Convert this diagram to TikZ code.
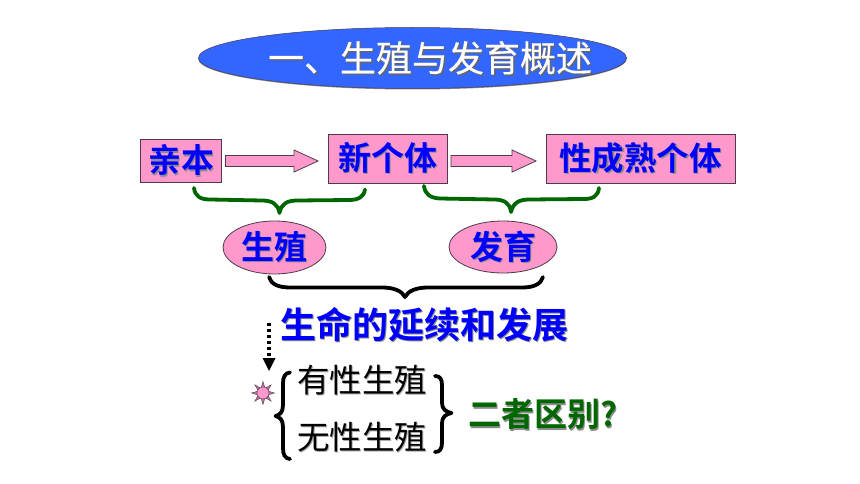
\documentclass[tikz,border=0pt]{standalone}
\usepackage{fontspec}
\usetikzlibrary{shapes.geometric,arrows.meta,calc}
\setmainfont{Noto Sans CJK SC}
\newfontfamily\cjkreg{Noto Sans CJK SC}
\newfontfamily\cjkmed[FakeBold=0.3]{Noto Sans CJK SC}
\newfontfamily\cjkbold{Noto Sans CJK SC Bold}
\definecolor{pinkfill}{HTML}{FF99CC}
\definecolor{edgecol}{HTML}{4D3A4D}
\definecolor{titleblue}{HTML}{3366FF}
\definecolor{dkgreen}{HTML}{006600}
\newcommand{\shtext}[4]{\leavevmode\rlap{\kern#4\raisebox{-#4}{\textcolor{#3}{#1}}}\textcolor{#2}{#1}}
\newcommand{\bluetxt}[2][33]{{\fontsize{#1}{#1}\cjkbold\shtext{#2}{blue}{black!45}{1.4pt}}}
\newcommand{\blockarrow}[3]{%
  \coordinate (bs) at ($(#1.east)+(3.5,#3)$);
  \coordinate (bt) at ($(bs -| #2.west)+(-9.5,0)$);
  \draw[arrowshape] (bs) ++(0,-5.5) -- ($(bt)+(-24,-5.5)$) -- ($(bt)+(-24,-11)$) -- (bt)
     -- ($(bt)+(-24,11)$) -- ($(bt)+(-24,5.5)$) -- ($(bs)+(0,5.5)$) -- cycle;}
\tikzset{
  x=1pt,y=-1pt,
  pinkbox/.style={draw=edgecol,fill=pinkfill,line width=0.9pt,rectangle,inner sep=0pt},
  pinkoval/.style={draw=edgecol,fill=pinkfill,line width=0.8pt,ellipse,inner sep=0pt},
  arrowshape/.style={draw=edgecol,fill=pinkfill,line width=0.8pt},
  greenbrace/.style={draw=dkgreen,line width=3.8pt,line cap=round,line join=round},
  blackbrace/.style={draw=black,line width=3.8pt,line cap=round,line join=round},
  plain/.style={inner sep=0pt,outer sep=0pt}
}
\begin{document}
\begin{tikzpicture}
\useasboundingbox (0,0) rectangle (860,484);
\fill[white] (0,0) rectangle (860,484);
% title
\fill[black!45] (412.5,58.7) ellipse [x radius=214.3,y radius=30.8];
\node[ellipse,fill=titleblue,draw=edgecol,line width=0.5pt,inner sep=0pt,minimum width=428pt,minimum height=61pt] (title) at (412.5,58) {};
\node[plain] (titletext) at (430,58.5) {\fontsize{36}{36}\cjkmed\shtext{一、生殖与发育概述}{white}{black!60}{1.4pt}};
% boxes
\node[pinkbox,minimum width=81pt,minimum height=43.5pt] (parent) at (181,161) {\bluetxt[33]{亲本}};
\node[pinkbox,minimum width=119pt,minimum height=49pt] (newone) at (387.5,158.5) {\bluetxt{新个体}};
\node[pinkbox,minimum width=189pt,minimum height=49pt] (adult) at (640.5,158.5) {\bluetxt[32.5]{性成熟个体}};
\blockarrow{parent}{newone}{0}
\blockarrow{newone}{adult}{2.5}
% ovals
\node[pinkoval,minimum width=103pt,minimum height=53pt] (repro) at (274.5,247.5) {\bluetxt[33]{生殖}};
\node[pinkoval,minimum width=108pt,minimum height=52pt] (devel) at (503,247) {\bluetxt[33]{发育}};
% green braces
\coordinate (g1a) at (194,188); \coordinate (g1t) at (279.5,213); \coordinate (g1b) at (365,189.5);
\coordinate (g2a) at (424,186); \coordinate (g2t) at (511,212); \coordinate (g2b) at (599,188);
\draw[greenbrace] (g1a) .. controls (195,196) and (200,199.5) .. (210,199.5) -- (262,200.5)
   .. controls (272,200.5) and (278,204) .. (g1t) .. controls (281,204) and (287,200.5) .. (297,200.5)
   -- (349,200) .. controls (358,200) and (364,197) .. (g1b);
\draw[greenbrace] (g2a) .. controls (425,194) and (430,198) .. (440,198.5) -- (494,199.5)
   .. controls (504,199.5) and (510,203) .. (g2t) .. controls (513,203) and (519,199.5) .. (529,199.5)
   -- (584,199) .. controls (593,199) and (598,196) .. (g2b);
% black brace
\coordinate (k1a) at (269,277); \coordinate (k1t) at (405,297); \coordinate (k1b) at (543,277);
\draw[blackbrace] (k1a) .. controls (271,284) and (278,287.5) .. (290,287.5) -- (382,287.5)
   .. controls (394,287.5) and (402,291) .. (k1t) .. controls (408,291) and (416,287.5) .. (428,287.5)
   -- (522,287.5) .. controls (534,287.5) and (541,284) .. (k1b);
% life text
\node[plain] (life) at (424.5,325) {\bluetxt[36]{生命的延续和发展}};
% dotted arrow
\coordinate (da) at (269,323); \coordinate (db) at (269,371);
\draw[line width=3.6pt,dash pattern=on 3pt off 3pt,black] (da) -- (269,358);
\fill[black] (262.5,358) -- (275.5,358) -- (db) -- cycle;
% star
\foreach \a in {0,45,...,315}{
  \fill[pinkfill!75!black,draw=edgecol,line width=0.4pt] ($(263,393)+(\a-16:6)$) -- ($(263,393)+(\a:11.5)$) -- ($(263,393)+(\a+16:6)$) -- cycle;
}
\node[circle,fill=pinkfill,draw=edgecol,line width=0.4pt,minimum size=12pt,inner sep=0pt] (star) at (263,393) {};
% text pair
\node[plain] (sexual) at (362,380.5) {\fontsize{32.5}{33}\cjkreg\shtext{有性生殖}{black}{black!35}{1pt}};
\node[plain] (asexual) at (362,437.5) {\fontsize{32.5}{33}\cjkreg\shtext{无性生殖}{black}{black!35}{1pt}};
% side braces
\coordinate (l1) at (290,372.5); \coordinate (lt) at (275.5,416); \coordinate (l2) at (290,459);
\draw[blackbrace] (l1) .. controls (285,373) and (283,377) .. (283,383) -- (283,405)
   .. controls (283,412) and (280,415) .. (lt) .. controls (280,417) and (283,420) .. (283,427)
   -- (283,448) .. controls (283,455) and (285,458.5) .. (l2);
\coordinate (r1) at (435,376); \coordinate (rt) at (451.5,413); \coordinate (r2) at (435,452);
\draw[blackbrace] (r1) .. controls (440,376) and (442,379) .. (442,385) -- (442,403)
   .. controls (442,409) and (446,412) .. (rt) .. controls (446,414) and (442,417) .. (442,423)
   -- (442,442) .. controls (442,449) and (440,452) .. (r2);
% question
\node[plain] (question) at (542.5,415) {\fontsize{33}{33}\cjkbold\shtext{二者区别?}{dkgreen}{black!45}{1.4pt}};
\end{tikzpicture}
\end{document}
